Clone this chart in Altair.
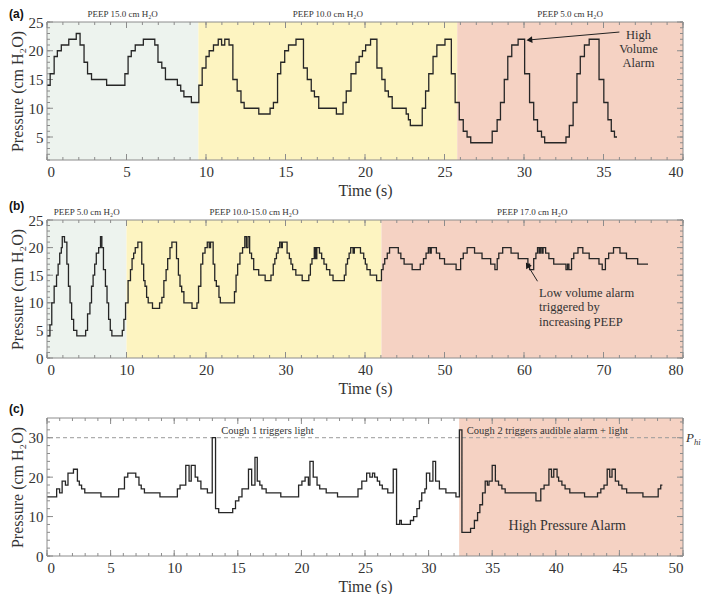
import altair as alt
import pandas as pd

# ---------------- data: panel (a) ----------------
a_time = [0, 0.2, 0.45, 0.65, 0.9, 1.37, 1.84, 2.08, 2.33, 2.55, 2.8, 3.75, 4.9, 5.1, 5.3, 5.55, 6.06,
          6.78, 6.98, 7.22, 7.45, 8.2, 8.41, 8.61, 9.08, 9.55, 9.76, 10.0, 10.2, 10.47, 10.77, 10.98,
          11.18, 11.45, 11.69, 11.96, 12.2, 12.4, 13.32, 14.03, 14.24, 14.5, 14.7, 14.95, 15.19, 15.66,
          16.13, 16.37, 16.62, 16.82, 17.09, 18.2, 18.62, 18.82, 19.12, 19.43, 19.63, 19.84, 20.04,
          20.35, 20.75, 21.06, 21.26, 21.47, 21.71, 22.59, 22.73, 22.85, 23.6, 23.81, 24.01, 24.28,
          24.52, 25.03, 25.43, 25.67, 25.93, 26.18, 26.42, 26.65, 28.0, 28.31, 28.52, 28.76, 28.98,
          29.23, 29.63, 30.04, 30.35, 30.61, 30.85, 31.1, 31.3, 32.64, 32.85, 33.09, 33.33, 33.54,
          33.8, 34.1, 34.72, 35.02, 35.28, 35.49, 35.69, 35.85]
a_pressure = [14, 16, 19, 20, 21, 22, 23, 21, 18, 16, 15, 14, 16, 19, 20, 21, 22,
              21, 18, 17, 15, 14, 13, 12, 11, 14, 17, 19, 20, 21, 22, 21,
              22, 21, 15, 13, 11, 10, 9, 10, 11, 16, 18, 20, 21, 22,
              17, 15, 13, 12, 10, 9, 11, 13, 16, 18, 19, 20, 21,
              22, 17, 15, 13, 12, 10, 9, 8, 7, 10, 13, 16, 19,
              21, 22, 16, 11, 8, 6, 5, 4, 6, 8, 11, 15, 19,
              21, 22, 16, 11, 8, 6, 5, 4, 5, 7, 11, 16, 19,
              21, 22, 15, 11, 8, 6, 5, 5]
a_region_start = [0, 9.52, 25.8]
a_region_end = [9.52, 25.8, 40]
a_region_kind = ["green", "yellow", "red"]
a_region_label = ["PEEP 15.0 cm H₂O", "PEEP 10.0 cm H₂O", "PEEP 5.0 cm H₂O"]
a_note_text = ["High", "Volume", "Alarm"]
a_note_t = [37.2, 37.2, 37.2]
a_note_p = [22.8, 20.3, 17.9]
a_arrow_t = [36.0, 30.4]
a_arrow_p = [23.25, 21.9]

# ---------------- data: panel (b) ----------------
b_time = [0, 0.37, 0.6, 0.9, 1.2, 1.4, 1.6, 1.8, 1.92, 2.2, 2.5, 2.7, 2.9, 3.1, 3.35, 3.75, 4.86, 5.1,
          5.4, 5.6, 5.8, 6.0, 6.2, 6.5, 6.73, 6.9, 7.1, 7.35, 7.55, 7.75, 7.96, 8.16, 9.47, 9.67, 9.88,
          10.2, 10.5, 10.7, 10.9, 11.1, 11.43, 11.92, 12.16, 12.33, 12.53, 12.73, 13.27, 14.16, 14.45,
          14.7, 14.98, 15.18, 15.47, 15.71, 16.29, 16.53, 16.73, 16.94, 17.22, 18.24, 18.86, 19.06,
          19.35, 19.59, 19.88, 20.16, 20.4, 20.57, 20.9, 21.1, 21.3, 21.63, 21.8, 23.58, 23.78, 23.98,
          24.27, 24.6, 24.88, 25.08, 25.28, 25.49, 25.73, 26.0, 26.63, 27.44, 28.17, 28.46, 28.66,
          28.86, 29.07, 29.27, 29.47, 29.6, 30.2, 30.49, 30.69, 30.9, 31.3, 32.1, 32.93, 33.13, 33.33,
          33.62, 33.78, 33.94, 34.27, 34.55, 34.84, 35.16, 35.57, 35.98, 37.4, 37.6, 37.8, 38.0, 38.2,
          38.5, 38.66, 39.43, 39.84, 40.04, 40.24, 40.65, 41.46, 42.07, 42.28, 42.48, 42.8, 43.09,
          44.19, 44.51, 44.92, 45.93, 46.95, 47.36, 47.68, 47.97, 48.17, 48.33, 48.98, 49.39, 50.0,
          51.46, 52.03, 52.36, 52.85, 53.78, 54.72, 55.81, 56.34, 56.63, 56.83, 57.32, 58.37, 59.27,
          60.49, 60.7, 61.22, 61.5, 61.7, 61.9, 62.05, 62.25, 62.4, 62.72, 63.13, 63.74, 65.28, 65.48,
          65.65, 65.98, 66.26, 66.79, 67.4, 68.2, 69.43, 69.84, 70.24, 70.65, 71.26, 72.07, 72.89,
          74.3, 75.6]
b_pressure = [4, 6, 10, 13, 15, 17, 19, 20, 22, 21, 17, 13, 10, 7, 5, 4, 5, 8,
              10, 13, 15, 17, 19, 20, 22, 20, 16, 13, 10, 7, 5, 4, 5, 7, 10,
              14, 16, 18, 19, 20, 21, 17, 14, 13, 11, 10, 9, 10, 11,
              14, 16, 18, 20, 21, 18, 15, 13, 12, 10, 9, 10, 13,
              17, 19, 20, 21, 20, 21, 17, 14, 13, 11, 10, 12, 15, 17,
              19, 20, 22, 20, 22, 19, 18, 16, 15, 14, 15, 17, 18,
              19, 20, 21, 20, 21, 19, 18, 17, 16, 15, 14, 15, 17, 18,
              20, 18, 20, 19, 18, 17, 16, 15, 14, 15, 17, 18, 19, 20,
              19, 20, 19, 18, 17, 16, 15, 14, 16, 17, 18, 19, 20,
              19, 18, 17, 16, 17, 18, 19, 20, 19, 20, 19, 18, 17,
              16, 18, 19, 20, 19, 18, 17, 16, 18, 19, 20, 19, 18,
              17, 16, 18, 19, 20, 19, 20, 19, 20, 19, 18, 17, 16, 17,
              16, 18, 19, 20, 19, 18, 17, 16, 18, 19, 20, 19, 18,
              17, 17]
b_region_start = [0, 10, 42.07]
b_region_end = [10, 42.07, 80]
b_region_kind = ["green", "yellow", "red"]
b_region_label = ["PEEP 5.0 cm H₂O", "PEEP 10.0-15.0 cm H₂O", "PEEP 17.0 cm H₂O"]
b_note_text = ["Low volume alarm", "triggered by", "increasing PEEP"]
b_note_t = [61.9, 61.9, 61.9]
b_note_p = [11.8, 9.2, 6.6]
b_arrow_t = [61.7, 60.5]
b_arrow_p = [13.9, 16.7]

# ---------------- data: panel (c) ----------------
c_time = [0, 0.76, 0.99, 1.19, 1.45, 1.65, 2.08, 2.39, 2.54, 2.72, 2.97, 4.24, 5.63, 6.09, 6.35, 6.98,
          7.23, 7.41, 7.66, 8.88, 10.25, 10.46, 10.91, 11.17, 11.34, 11.65, 11.85, 12.1, 12.61, 12.99,
          13.25, 13.5, 14.6, 14.82, 15.08, 15.33, 15.84, 16.09, 16.35, 16.53, 16.73, 16.9, 17.23,
          18.38, 19.78, 20.04, 20.29, 20.55, 20.67, 20.93, 21.23, 21.44, 21.95, 22.84, 24.45, 24.75,
          25.13, 25.38, 25.59, 25.76, 25.97, 26.15, 26.36, 26.79, 27.22, 27.48, 27.73, 27.86, 28.57,
          28.82, 29.08, 29.28, 29.46, 29.71, 29.83, 30.09, 30.34, 30.55, 30.85, 31.36, 32.15, 32.42,
          32.62, 33.3, 33.6, 33.85, 34.03, 34.24, 34.45, 34.62, 34.75, 35.0, 35.25, 35.5, 35.76,
          36.02, 38.44, 38.82, 39.08, 39.46, 39.66, 39.84, 40.1, 40.22, 40.48, 40.73, 41.1, 42.26,
          43.28, 43.54, 43.79, 44.04, 44.24, 44.42, 44.68, 44.94, 45.2, 45.57, 46.85, 48.05, 48.25,
          48.38]
c_pressure = [15, 17, 16, 19, 18, 21, 22, 19, 18, 17, 16, 15, 17, 20, 21, 20,
              18, 17, 16, 15, 17, 18, 23, 19, 23, 20, 19, 17, 16, 30,
              12, 11, 12, 14, 15, 17, 22, 18, 25, 19, 18, 17, 16,
              15, 18, 19, 20, 18, 24, 20, 18, 17, 16, 15, 17, 19,
              21, 20, 21, 20, 19, 18, 17, 16, 22, 8, 9, 8, 9,
              10, 12, 14, 16, 17, 21, 19, 24, 19, 17, 16, 15, 32,
              6, 7, 9, 11, 13, 16, 19, 18, 19, 23, 19, 18, 17,
              16, 14, 17, 18, 22, 20, 22, 20, 19, 18, 17, 16, 15,
              16, 17, 18, 22, 20, 22, 19, 18, 17, 16, 15, 17, 18,
              18]
c_region_start = [32.4]
c_region_end = [50]
c_region_kind = ["red"]
c_region_label = [""]
c_note_text = ["Cough 1 triggers light", "Cough 2 triggers audible alarm + light"]
c_note_t = [13.7, 33.0]
c_note_p = [31.6, 31.6]
c_big_note = ["High Pressure Alarm"]
c_big_t = [40.9]
c_big_p = [7.5]
c_p_hi = [30]

# ---------------- style ----------------
W = 636
H = 138
SERIF = "Liberation Serif"
INK = "#333333"
FRAME = "#8c8c8c"
KIND_DOMAIN = ["green", "yellow", "red"]
KIND_RANGE = ["#edf3ee", "#fdf4c1", "#f5d2c3"]


def panel(letter, letter_dy, time, pressure, xdom, ydom, xmaj, xmin, ymaj, ymin,
          rstart, rend, rkind, rlabel, notes=None, arrow=None, arrow_angle=0,
          extra=None):
    xs = alt.Scale(domain=xdom, nice=False, zero=False)
    ys = alt.Scale(domain=ydom, nice=False, zero=False)
    xa = alt.Axis(values=xmaj, title="Time (s)", format="d")
    ya = alt.Axis(values=ymaj, title="Pressure (cm H₂O)", format="d")

    def X(f):
        return alt.X(f, type="quantitative", scale=xs, axis=xa)

    def Y(f):
        return alt.Y(f, type="quantitative", scale=ys, axis=ya)

    layers = []

    reg = pd.DataFrame({"start": rstart, "end": rend, "kind": rkind, "label": rlabel})
    layers.append(alt.Chart(reg).mark_rect().encode(
        x=X("start"), x2="end",
        y=alt.value(0), y2=alt.value(H),
        color=alt.Color("kind:N", scale=alt.Scale(domain=KIND_DOMAIN, range=KIND_RANGE), legend=None)))
    layers.append(alt.Chart(reg).transform_filter("datum.label != ''").transform_calculate(
        mid="(datum.start + datum.end) / 2").mark_text(
        font=SERIF, fontSize=9, color=INK, baseline="middle").encode(
        x=X("mid"), y=alt.value(-8), text="label:N"))

    # inward ticks on all four sides
    for vals, L in ((xmaj, 6), (xmin, 3)):
        d = pd.DataFrame({"t": vals})
        r = alt.Chart(d).mark_rule(color=FRAME, strokeWidth=1)
        layers.append(r.encode(x=X("t"), y=alt.value(H), y2=alt.value(H - L)))
        layers.append(r.encode(x=X("t"), y=alt.value(0), y2=alt.value(L)))
    for vals, L in ((ymaj, 6), (ymin, 3)):
        d = pd.DataFrame({"p": vals})
        r = alt.Chart(d).mark_rule(color=FRAME, strokeWidth=1)
        layers.append(r.encode(y=Y("p"), x=alt.value(0), x2=alt.value(L)))
        layers.append(r.encode(y=Y("p"), x=alt.value(W), x2=alt.value(W - L)))

    if extra is not None:
        layers.extend(extra(X, Y))

    df = pd.DataFrame({"t": time, "p": pressure})
    layers.append(alt.Chart(df).mark_line(interpolate="step-after", color="#262626", strokeWidth=1.3).encode(
        x=X("t"), y=Y("p")))

    if notes is not None:
        txt, nt, npr, align, size = notes
        nd = pd.DataFrame({"t": nt, "p": npr, "text": txt})
        layers.append(alt.Chart(nd).mark_text(font=SERIF, fontSize=size, color=INK, align=align,
                                              baseline="middle").encode(
            x=X("t"), y=Y("p"), text="text:N"))
    if arrow is not None:
        at, ap = arrow
        ad = pd.DataFrame({"t": at, "p": ap, "o": [0, 1]})
        layers.append(alt.Chart(ad).mark_line(color="#222222", strokeWidth=1).encode(
            x=X("t"), y=Y("p"), order="o:Q"))
        layers.append(alt.Chart(ad.iloc[[1]]).mark_point(shape="triangle", filled=True, size=45,
                                                         color="#1a1a1a", opacity=1,
                                                         angle=arrow_angle).encode(
            x=X("t"), y=Y("p")))

    # frame and panel letter
    one = pd.DataFrame({"letter": [letter]})
    layers.append(alt.Chart(one).mark_rect(fill=None, stroke=FRAME, strokeWidth=1).encode(
        x=alt.value(0), x2=alt.value(W), y=alt.value(0), y2=alt.value(H)))
    layers.append(alt.Chart(one).mark_text(font="Liberation Sans", fontWeight="bold", fontSize=12,
                                           color="#111111", align="left", baseline="middle").encode(
        x=alt.value(-38), y=alt.value(letter_dy), text="letter:N"))

    return alt.layer(*layers).properties(width=W, height=H)


def c_extra(X, Y):
    d = pd.DataFrame({"p": c_p_hi})
    out = [alt.Chart(d).mark_rule(color="#9a9a9a", strokeDash=[4, 3], strokeWidth=1).encode(y=Y("p"))]
    out.append(alt.Chart(d).mark_text(font=SERIF, fontSize=13, fontStyle="italic", color=INK,
                                      align="left", baseline="middle", text="P").encode(
        x=alt.value(W + 3), y=Y("p")))
    out.append(alt.Chart(d).mark_text(font=SERIF, fontSize=8.5, fontStyle="italic", color=INK,
                                      align="left", baseline="middle", text="hi", dy=4).encode(
        x=alt.value(W + 11), y=Y("p")))
    bd = pd.DataFrame({"t": c_big_t, "p": c_big_p, "text": c_big_note})
    out.append(alt.Chart(bd).mark_text(font=SERIF, fontSize=14, color=INK, align="center",
                                       baseline="middle").encode(
        x=X("t"), y=Y("p"), text="text:N"))
    return out


pa = panel("(a)", -8, a_time, a_pressure, [0, 40], [1, 25],
           list(range(0, 41, 5)), list(range(0, 41, 1)), [5, 10, 15, 20, 25], list(range(1, 26, 1)),
           a_region_start, a_region_end, a_region_kind, a_region_label,
           notes=(a_note_text, a_note_t, a_note_p, "center", 12.5),
           arrow=(a_arrow_t, a_arrow_p), arrow_angle=265)

pb = panel("(b)", -14, b_time, b_pressure, [0, 80], [0, 25],
           list(range(0, 81, 10)), list(range(0, 81, 2)), [0, 5, 10, 15, 20, 25], list(range(0, 26, 1)),
           b_region_start, b_region_end, b_region_kind, b_region_label,
           notes=(b_note_text, b_note_t, b_note_p, "left", 12.5),
           arrow=(b_arrow_t, b_arrow_p), arrow_angle=328)

pc = panel("(c)", -9, c_time, c_pressure, [0, 50], [0, 35],
           list(range(0, 51, 5)), list(range(0, 51, 1)), [0, 10, 20, 30], list(range(0, 36, 2)),
           c_region_start, c_region_end, c_region_kind, c_region_label,
           notes=(c_note_text, c_note_t, c_note_p, "left", 10.5),
           extra=c_extra)

chart = alt.vconcat(pa, pb, pc, spacing=60, bounds="flush").properties(
    padding={"left": 0, "top": 0, "right": 0, "bottom": 0}
).configure_view(stroke=None).configure_axis(
    grid=False, ticks=False, domain=False,
    labelFont=SERIF, labelFontSize=15, labelColor=INK, labelPadding=4,
    titleFont=SERIF, titleFontSize=16, titleFontWeight="normal", titleColor=INK, titlePadding=3,
)

chart.save("out.html", embed_options={"renderer": "svg", "actions": False})
